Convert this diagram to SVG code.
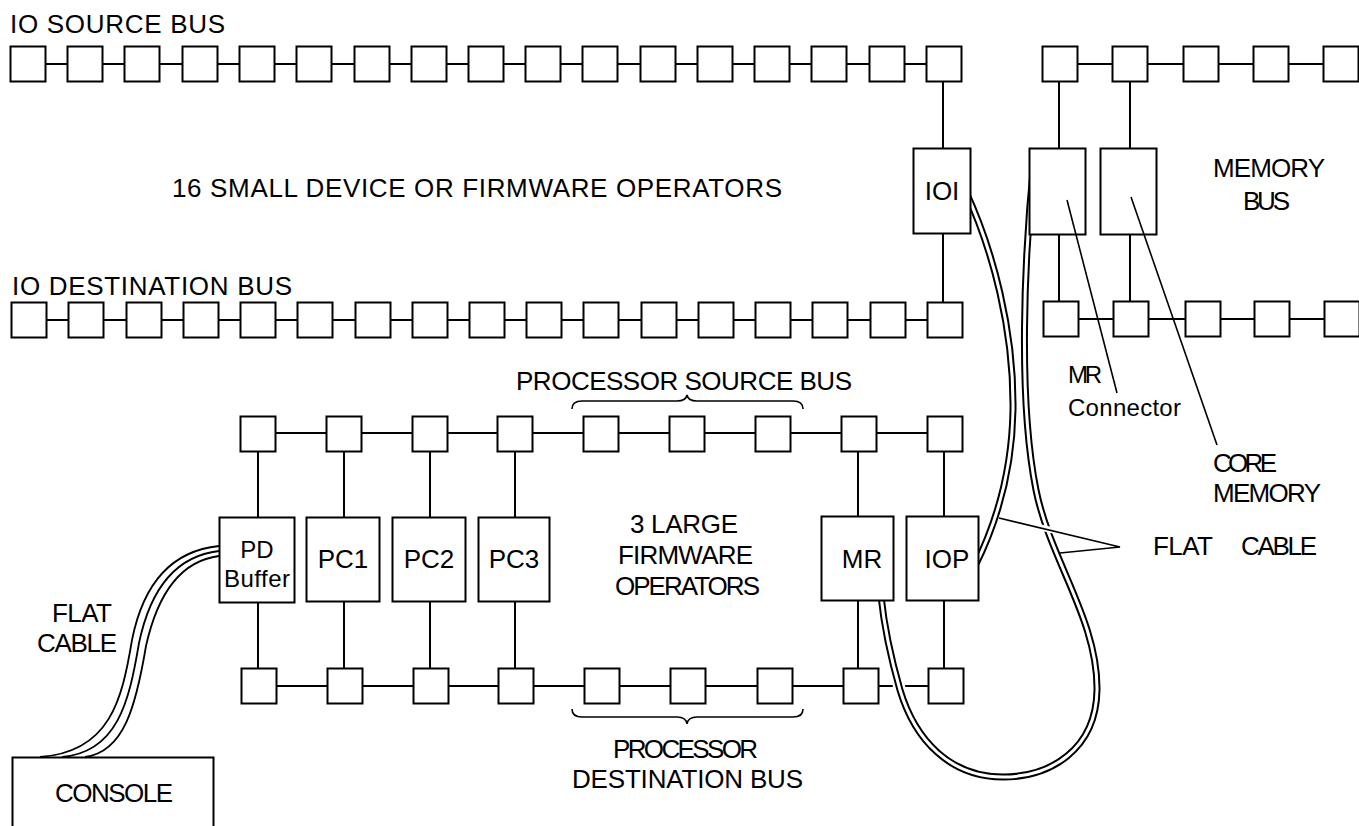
<svg xmlns="http://www.w3.org/2000/svg" xmlns:xlink="http://www.w3.org/1999/xlink" width="1359" height="826" viewBox="0 0 1359 826">
<style>
.box{fill:#fff;stroke:#000;stroke-width:2}
.bus{stroke:#000;stroke-width:2;fill:none}
.cblk{stroke:#000;stroke-width:7;fill:none}
.cwht{stroke:#fff;stroke-width:3;fill:none}
.chalo{stroke:#fff;stroke-width:12;fill:none}
.thin{stroke:#000;stroke-width:1.8;fill:none}
.lead{stroke:#000;stroke-width:1.6;fill:none}
.t{font-family:"Liberation Sans",Arial,sans-serif;font-size:26px;fill:#000}
.s{font-family:"Liberation Sans",Arial,sans-serif;font-size:24px;fill:#000}
.m{text-anchor:middle}
</style>
<defs>
<rect id="sq" width="35" height="35" class="box"/>
</defs>
<rect width="1359" height="826" fill="#fff"/>

<g id="connectors">
<!-- bus lines -->
<path class="bus" d="M28,64H944 M29,320H945 M1060,64H1359 M1060,319H1359 M258,433H945 M259,686H946"/>
<!-- vertical taps -->
<path class="bus" d="M943,82V148 M943,233V302 M1059,82V148 M1059,234V302 M1130,82V148 M1130,234V302
M258,451V517 M258,602V668 M344,451V517 M344,602V668 M430,451V517 M430,602V668 M515,451V517 M515,602V668
M858,451V517 M858,600V668 M944,451V517 M944,600V668"/>
<!-- flat cable IOI - IOP -->
<g id="cable-ioi-iop">
<path class="chalo" d="M965,190 C993,250 1014,330 1013,410 C1012,470 998,520 975,566"/>
<path class="cblk" d="M965,190 C993,250 1014,330 1013,410 C1012,470 998,520 975,566"/>
<path class="cwht" d="M965,190 C993,250 1014,330 1013,410 C1012,470 998,520 975,566"/>
</g>
<!-- flat cable MR - MR connector -->
<g id="cable-mr">
<path class="chalo" d="M1034,160 C1024,260 1018,400 1036,490 C1050,560 1098,620 1097,690 C1096,750 1050,777 1003,777 C950,777 915,740 900,690 C890,655 884,625 881,596"/>
<path class="cblk" d="M1034,160 C1024,260 1018,400 1036,490 C1050,560 1098,620 1097,690 C1096,750 1050,777 1003,777 C950,777 915,740 900,690 C890,655 884,625 881,596"/>
<path class="cwht" d="M1034,160 C1024,260 1018,400 1036,490 C1050,560 1098,620 1097,690 C1096,750 1050,777 1003,777 C950,777 915,740 900,690 C890,655 884,625 881,596"/>
</g>
<!-- flat cable console - PD buffer -->
<g id="cable-console">
<path class="thin" d="M219,546 C160,552 140,600 132,640 C122,700 110,752 40,757"/>
<path class="thin" d="M219,551 C166,557 147,605 139,643 C129,703 117,752 62,757"/>
<path class="thin" d="M219,556 C172,562 154,610 146,646 C136,706 124,752 85,757"/>
</g>
</g>

<g id="io-source-bus">
<g id="ios0"><use xlink:href="#sq" x="10.5" y="46.5"/></g>
<g id="ios1"><use xlink:href="#sq" x="67.5" y="46.5"/></g>
<g id="ios2"><use xlink:href="#sq" x="124.5" y="46.5"/></g>
<g id="ios3"><use xlink:href="#sq" x="182.5" y="46.5"/></g>
<g id="ios4"><use xlink:href="#sq" x="239.5" y="46.5"/></g>
<g id="ios5"><use xlink:href="#sq" x="296.5" y="46.5"/></g>
<g id="ios6"><use xlink:href="#sq" x="354.5" y="46.5"/></g>
<g id="ios7"><use xlink:href="#sq" x="411.5" y="46.5"/></g>
<g id="ios8"><use xlink:href="#sq" x="468.5" y="46.5"/></g>
<g id="ios9"><use xlink:href="#sq" x="525.5" y="46.5"/></g>
<g id="ios10"><use xlink:href="#sq" x="582.5" y="46.5"/></g>
<g id="ios11"><use xlink:href="#sq" x="640.5" y="46.5"/></g>
<g id="ios12"><use xlink:href="#sq" x="697.5" y="46.5"/></g>
<g id="ios13"><use xlink:href="#sq" x="754.5" y="46.5"/></g>
<g id="ios14"><use xlink:href="#sq" x="811.5" y="46.5"/></g>
<g id="ios15"><use xlink:href="#sq" x="869.5" y="46.5"/></g>
<g id="ios16"><use xlink:href="#sq" x="926.5" y="46.5"/></g>
</g>

<g id="io-destination-bus">
<g id="iod0"><use xlink:href="#sq" x="11.5" y="302.5"/></g>
<g id="iod1"><use xlink:href="#sq" x="68.5" y="302.5"/></g>
<g id="iod2"><use xlink:href="#sq" x="126.5" y="302.5"/></g>
<g id="iod3"><use xlink:href="#sq" x="183.5" y="302.5"/></g>
<g id="iod4"><use xlink:href="#sq" x="240.5" y="302.5"/></g>
<g id="iod5"><use xlink:href="#sq" x="297.5" y="302.5"/></g>
<g id="iod6"><use xlink:href="#sq" x="355.5" y="302.5"/></g>
<g id="iod7"><use xlink:href="#sq" x="412.5" y="302.5"/></g>
<g id="iod8"><use xlink:href="#sq" x="469.5" y="302.5"/></g>
<g id="iod9"><use xlink:href="#sq" x="526.5" y="302.5"/></g>
<g id="iod10"><use xlink:href="#sq" x="583.5" y="302.5"/></g>
<g id="iod11"><use xlink:href="#sq" x="641.5" y="302.5"/></g>
<g id="iod12"><use xlink:href="#sq" x="698.5" y="302.5"/></g>
<g id="iod13"><use xlink:href="#sq" x="755.5" y="302.5"/></g>
<g id="iod14"><use xlink:href="#sq" x="812.5" y="302.5"/></g>
<g id="iod15"><use xlink:href="#sq" x="870.5" y="302.5"/></g>
<g id="iod16"><use xlink:href="#sq" x="927.5" y="302.5"/></g>
</g>

<g id="memory-bus">
<g id="mt0"><use xlink:href="#sq" x="1042.5" y="46.5"/></g>
<g id="mt1"><use xlink:href="#sq" x="1112.5" y="46.5"/></g>
<g id="mt2"><use xlink:href="#sq" x="1183.5" y="46.5"/></g>
<g id="mt3"><use xlink:href="#sq" x="1253.5" y="46.5"/></g>
<g id="mt4"><use xlink:href="#sq" x="1323.5" y="46.5"/></g>
<g id="mb0"><use xlink:href="#sq" x="1043.5" y="301.5"/></g>
<g id="mb1"><use xlink:href="#sq" x="1113.5" y="301.5"/></g>
<g id="mb2"><use xlink:href="#sq" x="1185.5" y="301.5"/></g>
<g id="mb3"><use xlink:href="#sq" x="1254.5" y="301.5"/></g>
<g id="mb4"><use xlink:href="#sq" x="1324.5" y="301.5"/></g>
</g>

<g id="processor-source-bus">
<g id="ps0"><use xlink:href="#sq" x="240.5" y="416.5"/></g>
<g id="ps1"><use xlink:href="#sq" x="326.5" y="416.5"/></g>
<g id="ps2"><use xlink:href="#sq" x="412.5" y="416.5"/></g>
<g id="ps3"><use xlink:href="#sq" x="497.5" y="416.5"/></g>
<g id="ps4"><use xlink:href="#sq" x="583.5" y="416.5"/></g>
<g id="ps5"><use xlink:href="#sq" x="669.5" y="416.5"/></g>
<g id="ps6"><use xlink:href="#sq" x="755.5" y="416.5"/></g>
<g id="ps7"><use xlink:href="#sq" x="841.5" y="416.5"/></g>
<g id="ps8"><use xlink:href="#sq" x="927.5" y="416.5"/></g>
</g>

<g id="processor-destination-bus">
<g id="pd0"><use xlink:href="#sq" x="241.5" y="668.5"/></g>
<g id="pd1"><use xlink:href="#sq" x="327.5" y="668.5"/></g>
<g id="pd2"><use xlink:href="#sq" x="413.5" y="668.5"/></g>
<g id="pd3"><use xlink:href="#sq" x="498.5" y="668.5"/></g>
<g id="pd4"><use xlink:href="#sq" x="584.5" y="668.5"/></g>
<g id="pd5"><use xlink:href="#sq" x="670.5" y="668.5"/></g>
<g id="pd6"><use xlink:href="#sq" x="757.5" y="668.5"/></g>
<g id="pd7"><use xlink:href="#sq" x="843.5" y="668.5"/></g>
<g id="pd8"><use xlink:href="#sq" x="928.5" y="668.5"/></g>
</g>

<g id="ioi"><rect class="box" x="913.5" y="148.5" width="57" height="85"/><text class="t m" x="942" y="200">IOI</text></g>
<g id="mr-connector"><rect class="box" x="1029.5" y="148.5" width="56" height="86"/></g>
<g id="core-memory"><rect class="box" x="1100.5" y="148.5" width="56" height="86"/></g>
<g id="pd-buffer"><rect class="box" x="219.5" y="517.5" width="75" height="85"/><text class="s m" x="257" y="558">PD</text><text class="s" x="224" y="587" textLength="66">Buffer</text></g>
<g id="pc1"><rect class="box" x="306.5" y="517.5" width="73" height="84"/><text class="t m" x="343" y="568">PC1</text></g>
<g id="pc2"><rect class="box" x="392.5" y="517.5" width="73" height="84"/><text class="t m" x="429" y="568">PC2</text></g>
<g id="pc3"><rect class="box" x="478.5" y="517.5" width="71" height="84"/><text class="t m" x="514" y="568">PC3</text></g>
<g id="mr"><rect class="box" x="821.5" y="516.5" width="72" height="84"/><text class="t m" x="862" y="568">MR</text></g>
<g id="iop"><rect class="box" x="906.5" y="516.5" width="72" height="84"/><text class="t m" x="947" y="568">IOP</text></g>
<g id="console"><rect class="box" x="12.5" y="757.5" width="201" height="100"/><text class="t" x="55" y="802" textLength="118">CONSOLE</text></g>

<g id="leaders">
<path class="lead" d="M1067,200 L1117,393"/>
<path class="lead" d="M1131,197 L1217,445"/>
<path stroke="#fff" stroke-width="6" fill="none" d="M1030,525 L1060,532"/>
<path class="lead" d="M999,518 L1120,547 L1060,553"/>
</g>

<g id="braces">
<path class="lead" stroke-width="2" d="M572,409 Q572,401 582,401 L677,401 Q686,401 687,395 Q688,401 697,401 L793,401 Q803,401 803,409"/>
<path class="lead" stroke-width="2" d="M572,709 Q572,717 582,717 L677,717 Q686,717 687,724 Q688,717 697,717 L793,717 Q803,717 803,709"/>
</g>

<g id="labels">
<text class="t" x="10" y="33" textLength="215">IO SOURCE BUS</text>
<text class="t" x="172" y="197" textLength="610">16 SMALL DEVICE OR FIRMWARE OPERATORS</text>
<text class="t" x="12" y="295" textLength="280">IO DESTINATION BUS</text>
<text class="t" x="1213" y="177" textLength="112">MEMORY</text>
<text class="t" x="1243" y="210" textLength="47">BUS</text>
<text class="t" x="516" y="390" textLength="336">PROCESSOR SOURCE BUS</text>
<text class="t" x="630" y="533" textLength="108">3 LARGE</text>
<text class="t" x="618" y="564" textLength="135">FIRMWARE</text>
<text class="t" x="615" y="595" textLength="145">OPERATORS</text>
<text class="s" x="1068" y="383" textLength="34">MR</text>
<text class="s" x="1068" y="416" textLength="113">Connector</text>
<text class="t" x="1213" y="472" textLength="64">CORE</text>
<text class="t" x="1213" y="502" textLength="108">MEMORY</text>
<text class="t" x="1153" y="555" textLength="60">FLAT</text>
<text class="t" x="1241" y="555" textLength="76">CABLE</text>
<text class="t" x="613" y="758" textLength="145">PROCESSOR</text>
<text class="t" x="572" y="788" textLength="231">DESTINATION BUS</text>
<text class="t" x="52" y="622" textLength="60">FLAT</text>
<text class="t" x="37" y="652" textLength="80">CABLE</text>
</g>
</svg>
